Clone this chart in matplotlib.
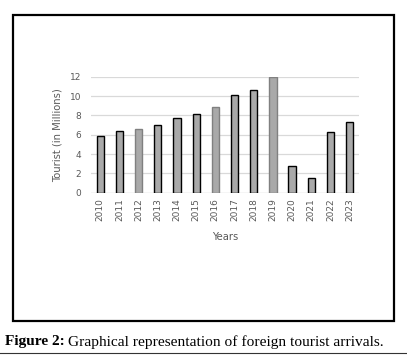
import matplotlib.pyplot as plt
from matplotlib.patches import Rectangle
from matplotlib.lines import Line2D

# Arrivi di turisti stranieri (milioni)
years = ['2010', '2011', '2012', '2013', '2014', '2015', '2016',
         '2017', '2018', '2019', '2020', '2021', '2022', '2023']
tourists = [5.85, 6.38, 6.55, 6.97, 7.69, 8.10, 8.83,
            10.07, 10.59, 12.0, 2.72, 1.52, 6.24, 7.28]
# alcune barre hanno il bordo grigio invece che nero
edge_colors = ['black', 'black', '#808080', 'black', 'black', 'black', '#808080',
               'black', 'black', '#808080', 'black', 'black', 'black', 'black']
y_ticks = [0, 2, 4, 6, 8, 10, 12]

fig = plt.figure(figsize=(4.07, 3.55), dpi=100)
ax = fig.add_axes([0.2229, 0.4572, 0.6595, 0.3268])

x = range(len(years))
ax.bar(x, tourists, width=0.38, color='#a9a9a9', edgecolor=edge_colors,
       linewidth=1.0, zorder=3)

ax.set_xlim(-0.5, len(years) - 0.5)
ax.set_ylim(0, 12)
ax.set_yticks(y_ticks)
ax.set_xticks(list(x))
ax.set_xticklabels(years, rotation=90)
ax.tick_params(axis='both', length=0, labelsize=6.5, colors='#595959')
ax.tick_params(axis='y', pad=7)
ax.tick_params(axis='x', pad=4)
ax.grid(axis='y', color='#d9d9d9', linewidth=0.9, zorder=0)
for s in ax.spines.values():
    s.set_visible(False)
ax.axhline(0, color='#d9d9d9', linewidth=0.9, zorder=1)

ax.set_ylabel('Tourist (in Millions)', fontsize=7.2, color='#595959', labelpad=5)
ax.set_xlabel('Years', fontsize=7.2, color='#595959', labelpad=8)

# cornice esterna e linea sotto la didascalia
fig.patches.append(Rectangle((13.5 / 407, 1 - 320.7 / 355), 380 / 407, 306.2 / 355,
                             transform=fig.transFigure, fill=False,
                             edgecolor='black', linewidth=1.6))
fig.lines.append(Line2D([0, 1], [1 - 353.3 / 355] * 2, transform=fig.transFigure,
                        color='#333333', linewidth=0.8))

# didascalia: parte in grassetto + resto, affiancati
cap_y = 1 - 342 / 355
fs = 11.1
t1 = fig.text(5 / 407, cap_y, 'Figure 2:', fontsize=fs, family='Liberation Serif',
              weight='bold', va='center', ha='left')
r = fig.canvas.get_renderer()
bb = t1.get_window_extent(r)
t2 = fig.text(bb.x1 / 407 + 3 / 407, cap_y,
              'Graphical representation of foreign tourist arrivals.',
              fontsize=fs, family='Liberation Serif', va='center', ha='left')

fig.savefig('out.png', dpi=100)
